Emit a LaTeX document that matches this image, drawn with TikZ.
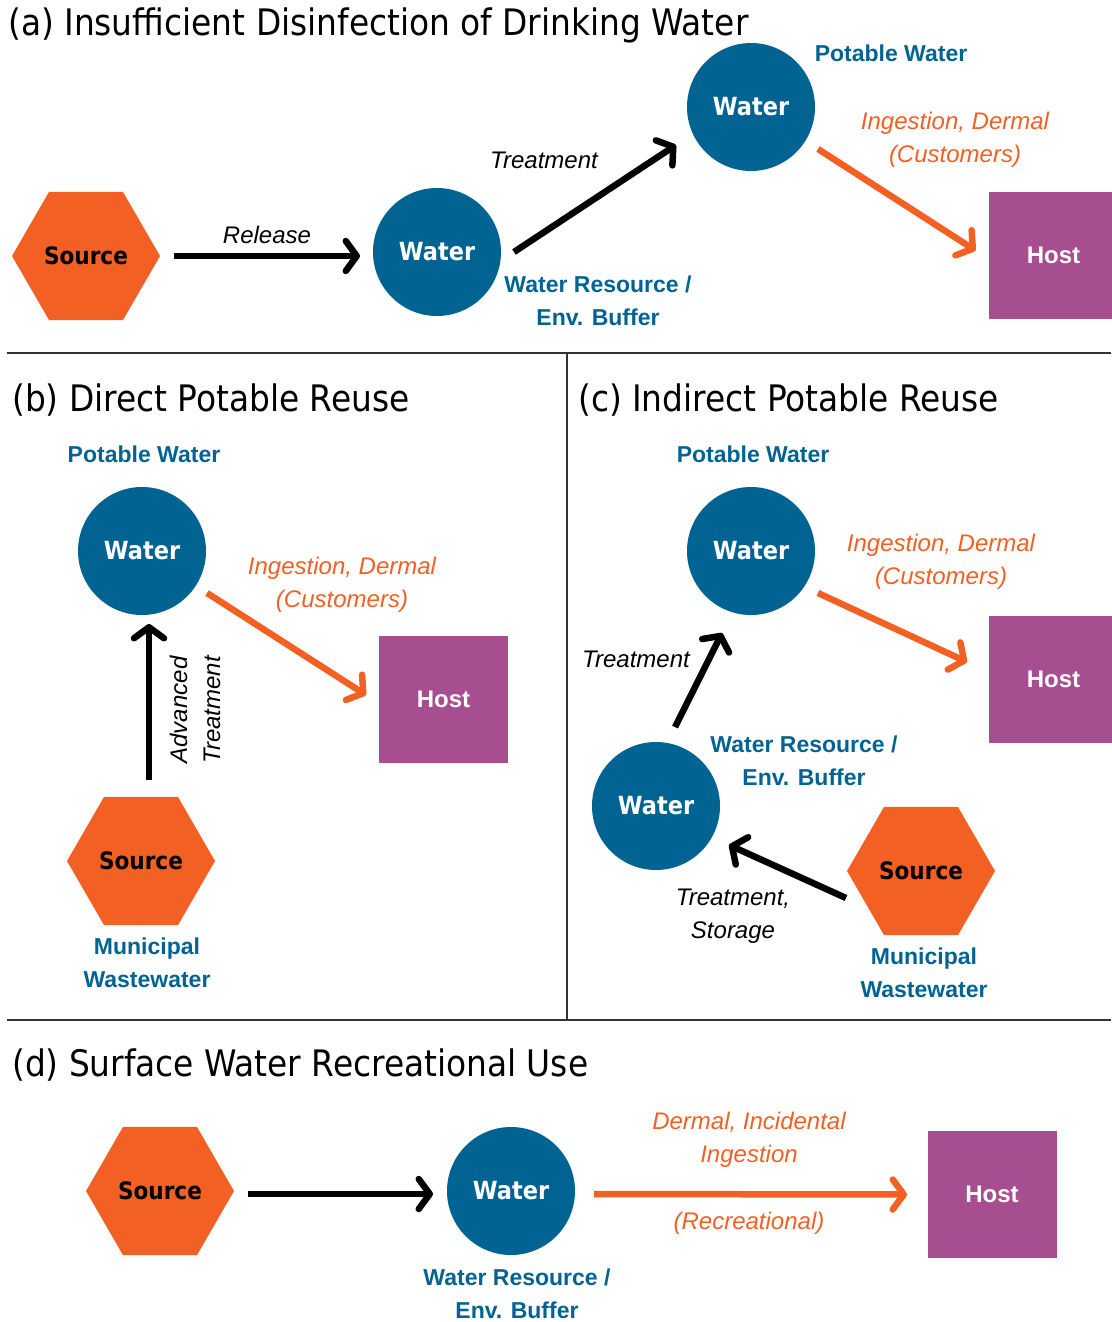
\documentclass[tikz,border=0pt]{standalone}
\usepackage{fontspec}
\setmainfont{Liberation Sans}
\newfontfamily\headfont{DejaVu Sans Condensed}
\usetikzlibrary{shapes.geometric,arrows.meta}
\definecolor{wblue}{RGB}{1,99,146}
\definecolor{sorange}{RGB}{242,96,36}
\definecolor{hpurple}{RGB}{166,78,143}
\definecolor{rulegray}{RGB}{51,51,51}
\tikzset{
  water/.style={circle, fill=wblue, minimum size=128pt, inner sep=0pt, text=white,
    font=\headfont\bfseries\fontsize{25}{28}\selectfont},
  source/.style={regular polygon, regular polygon sides=6, fill=sorange,
    minimum size=148pt, inner sep=0pt, text=black,
    font=\headfont\bfseries\fontsize{24}{28}\selectfont},
  host/.style={rectangle, fill=hpurple, minimum width=129pt, minimum height=127pt,
    inner sep=0pt, text=white, font=\bfseries\fontsize{24}{28}\selectfont},
  paneltitle/.style={anchor=base west, inner sep=0pt, font=\headfont\fontsize{36.5}{40}\selectfont},
  blab/.style={text=wblue, align=center, inner sep=0pt, font=\bfseries\fontsize{23}{33}\selectfont},
  olab/.style={text=sorange, align=center, inner sep=0pt, font=\itshape\fontsize{24}{33}\selectfont},
  klab/.style={text=black, align=center, inner sep=0pt, font=\itshape\fontsize{24}{33}\selectfont},
  karrow/.style={draw=black, line width=6.5pt, -{Straight Barb[round, length=11pt, width=30pt]}},
  oarrow/.style={karrow, draw=sorange},
  divider/.style={draw=rulegray, line width=2pt},
}
\begin{document}
\begin{tikzpicture}[x=1pt, y=-1pt]
\useasboundingbox (0,0) rectangle (1111,1322);

% panel frames
\draw[divider] (7,353) -- (1111,353);
\draw[divider] (567,353) -- (567,1020);
\draw[divider] (7,1020) -- (1111,1020);

% (a) insufficient disinfection
\node[paneltitle] (tA) at (8,36) {(a) Insufficient Disinfection of Drinking Water};
\node[source] (srcA) at (86,256) {Source};
\node[water] (wA1) at (437,252) {Water};
\node[water] (wA2) at (751,107) {Water};
\node[host] (hostA) at (1053.5,255.5) {Host};
\node[klab] (lRel) at (267,235) {Release};
\node[klab] (lTrA) at (544,160) {Treatment};
\node[blab] (lResA) at (598,300.5) {Water Resource /\\Env. Buffer};
\node[blab] (lPotA) at (891,53) {Potable Water};
\node[olab] (lIngA) at (955,139.5) {Ingestion, Dermal\\(Customers)};
\draw[karrow] ([shift={(88,0)}]srcA.center) -- ([shift={(-77,4)}]wA1.center);
\draw[karrow] ([shift={(77,0)}]wA1.center) -- ([shift={(-75,38)}]wA2.center);
\draw[oarrow] ([shift={(67,42)}]wA2.center) -- ([shift={(-78,-5)}]hostA.center);

% (b) direct potable reuse
\node[paneltitle] (tB) at (12,411) {(b) Direct Potable Reuse};
\node[blab] (lPotB) at (144,454) {Potable Water};
\node[water] (wB) at (142,551) {Water};
\node[host] (hostB) at (443.5,699.5) {Host};
\node[source] (srcB) at (141,861) {Source};
\node[olab] (lIngB) at (342,584.5) {Ingestion, Dermal\\(Customers)};
\node[klab, rotate=90] (lAdv) at (195,710) {Advanced\\Treatment};
\node[blab] (lMunB) at (147,962.5) {Municipal\\Wastewater};
\draw[oarrow] ([shift={(65,42)}]wB.center) -- ([shift={(-77.5,-4.5)}]hostB.center);
\draw[karrow] ([shift={(8,-81)}]srcB.center) -- ([shift={(7,73)}]wB.center);

% (c) indirect potable reuse
\node[paneltitle] (tC) at (578,411) {(c) Indirect Potable Reuse};
\node[blab] (lPotC) at (753,454) {Potable Water};
\node[water] (wC2) at (751,551) {Water};
\node[host] (hostC) at (1053.5,679.5) {Host};
\node[water] (wC1) at (656,806) {Water};
\node[source] (srcC) at (921,871) {Source};
\node[olab] (lIngC) at (941,561.5) {Ingestion, Dermal\\(Customers)};
\node[klab] (lTrC) at (636,659) {Treatment};
\node[blab] (lResC) at (804,760.5) {Water Resource /\\Env. Buffer};
\node[klab] (lStor) at (733,916) {Treatment,\\Storage};
\node[blab] (lMunC) at (924,972.5) {Municipal\\Wastewater};
\draw[oarrow] ([shift={(67,42)}]wC2.center) -- ([shift={(-86.5,-17.5)}]hostC.center);
\draw[karrow] ([shift={(19,-79)}]wC1.center) -- ([shift={(-29,82)}]wC2.center);
\draw[karrow] ([shift={(-75,27)}]srcC.center) -- ([shift={(73,39)}]wC1.center);

% (d) surface water recreational use
\node[paneltitle] (tD) at (12,1076) {(d) Surface Water Recreational Use};
\node[source] (srcD) at (160,1191) {Source};
\node[water] (wD) at (511,1191) {Water};
\node[host] (hostD) at (992,1194.5) {Host};
\node[olab] (lIngD) at (749,1139.5) {Dermal, Incidental\\Ingestion};
\node[olab] (lRec) at (749,1223) {(Recreational)};
\node[blab] (lResD) at (517,1293.5) {Water Resource /\\Env. Buffer};
\draw[karrow] ([shift={(88,3)}]srcD.center) -- ([shift={(-78,3)}]wD.center);
\draw[oarrow] ([shift={(83,3)}]wD.center) -- ([shift={(-85,0)}]hostD.center);
\end{tikzpicture}
\end{document}
